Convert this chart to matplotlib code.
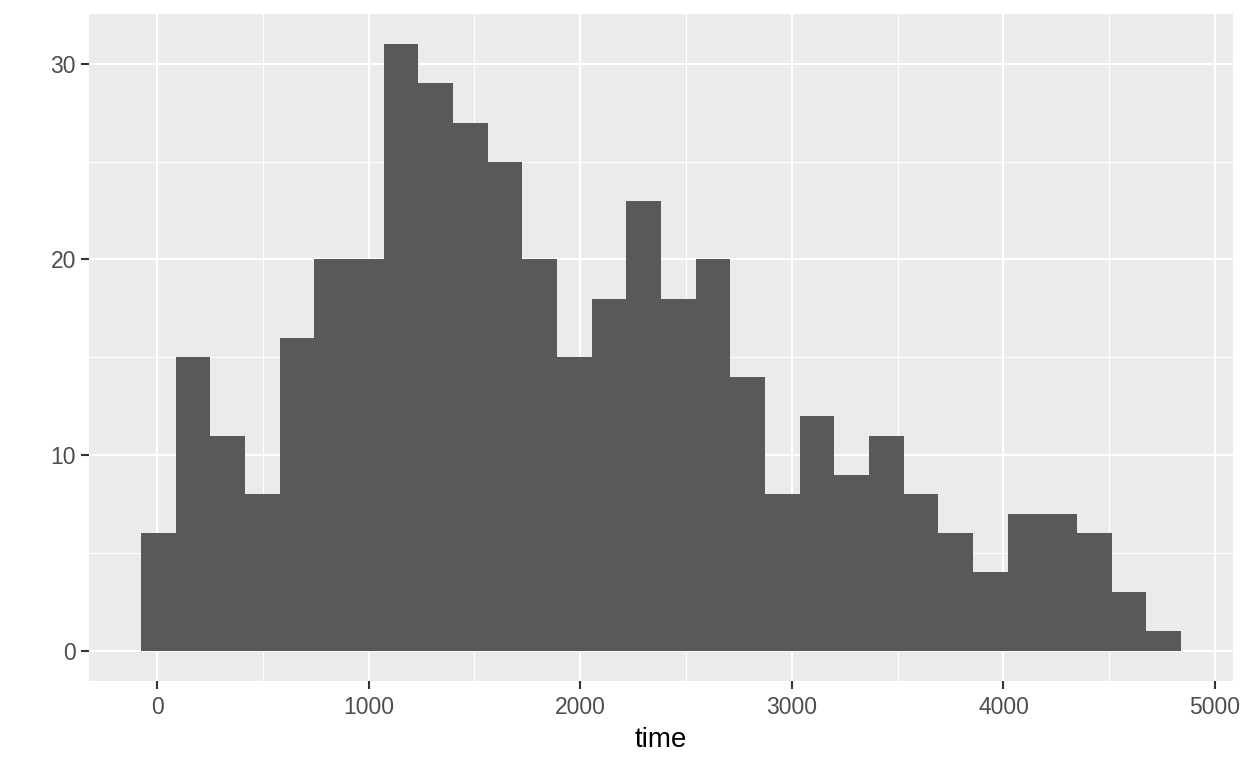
import numpy as np
import matplotlib.pyplot as plt

# histogram of time, 30 bins (ggplot style)
bin_edges = np.linspace(-75.9, 4838.9, 31)
counts = [6, 15, 11, 8, 16, 20, 20, 31, 29, 27, 25, 20, 15, 18, 23,
          18, 20, 14, 8, 12, 9, 11, 8, 6, 4, 7, 7, 6, 3, 1]
x_ticks = [0, 1000, 2000, 3000, 4000, 5000]
y_ticks = [0, 10, 20, 30]

plt.rcParams['font.family'] = ['Liberation Sans', 'DejaVu Sans']

fig = plt.figure(figsize=(12.48, 7.68), dpi=100)
ax = fig.add_axes([89 / 1248, 1 - 681 / 768, (1233 - 89) / 1248, (681 - 14) / 768])
ax.set_facecolor('#EBEBEB')

widths = np.diff(bin_edges)
ax.bar(bin_edges[:-1], counts, width=widths, align='edge', color='#595959',
       linewidth=0, zorder=3)

xr = bin_edges[-1] - bin_edges[0]
ax.set_xlim(bin_edges[0] - 0.05 * xr, bin_edges[-1] + 0.05 * xr)
ym = max(counts)
ax.set_ylim(-0.05 * ym, ym * 1.05)

ax.set_xticks(x_ticks)
ax.set_yticks(y_ticks)
ax.set_xticks([500, 1500, 2500, 3500, 4500], minor=True)
ax.set_yticks([5, 15, 25], minor=True)
ax.grid(which='major', color='white', linewidth=1.5, zorder=1)
ax.grid(which='minor', color='white', linewidth=0.75, zorder=1)
ax.set_axisbelow(True)

for s in ax.spines.values():
    s.set_visible(False)

ax.tick_params(which='major', length=5.5, width=1.5, color='#333333',
               labelsize=16.5, labelcolor='#4D4D4D', pad=4)
ax.tick_params(axis='x', which='major', pad=5)
ax.tick_params(which='minor', length=0)

ax.set_xlabel('time', fontsize=20, color='black', labelpad=6)

fig.savefig('out.png', dpi=100)
